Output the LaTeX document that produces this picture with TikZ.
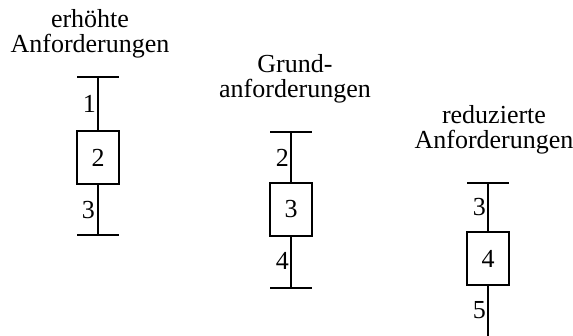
\documentclass[tikz,border=0pt]{standalone}
\usepackage{fontspec}
\setmainfont{Liberation Serif}
\begin{document}
\begin{tikzpicture}[x=1pt,y=-1pt,
  every node/.style={font=\fontsize{26}{25.5}\selectfont},
  title/.style={align=center,anchor=base,inner sep=0pt},
  boxn/.style={draw,line width=2pt,minimum width=42pt,minimum height=53pt,inner sep=0pt},
  lab/.style={anchor=east,inner sep=0pt},
  ln/.style={line width=2pt},
  bar/.style={line width=2pt}]
\useasboundingbox (0,0) rectangle (573,336);
% diagram 1
\node[title] (h1) at (90,53) {erhöhte\\Anforderungen};
\coordinate (t1) at (98,77);
\node[boxn] (b1) at (98,158) {2};
\coordinate (u1) at (98,235);
\draw[bar] ([xshift=-21pt]t1) -- ([xshift=21pt]t1);
\draw[bar] ([xshift=-21pt]u1) -- ([xshift=21pt]u1);
\draw[ln] (t1) -- (b1.north);
\draw[ln] (b1.south) -- (u1);
\node[lab] (l11) at (96,104) {1};
\node[lab] (l13) at (95,210) {3};
% diagram 2
\node[title] (h2) at (295,98) {Grund-\\anforderungen};
\coordinate (t2) at (291,132);
\node[boxn] (b2) at (291,209.5) {3};
\coordinate (u2) at (291,288);
\draw[bar] ([xshift=-21pt]t2) -- ([xshift=21pt]t2);
\draw[bar] ([xshift=-21pt]u2) -- ([xshift=21pt]u2);
\draw[ln] (t2) -- (b2.north);
\draw[ln] (b2.south) -- (u2);
\node[lab] (l22) at (289,158) {2};
\node[lab] (l24) at (289,261) {4};
% diagram 3
\node[title] (h3) at (494,149) {reduzierte\\Anforderungen};
\coordinate (t3) at (488,183);
\node[boxn] (b3) at (488,259) {4};
\coordinate (u3) at (488,336);
\draw[bar] ([xshift=-21pt]t3) -- ([xshift=21pt]t3);
\draw[ln] (t3) -- (b3.north);
\draw[ln] (b3.south) -- (u3);
\node[lab] (l33) at (486,207) {3};
\node[lab] (l35) at (486,310) {5};
\end{tikzpicture}
\end{document}
